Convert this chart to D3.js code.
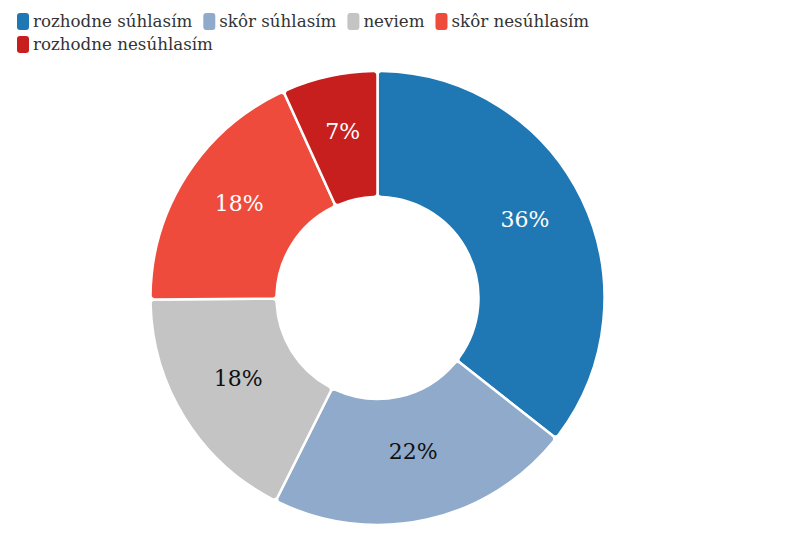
<!DOCTYPE html>
<html>
<head>
<meta charset="utf-8">
<script src="https://cdn.jsdelivr.net/npm/d3@7"></script>
<style>
  body { margin: 0; background: #fff; }
  svg text { font-family: "DejaVu Serif", serif; }
</style>
</head>
<body>
<div id="chart"></div>
<script>
const categories = ['rozhodne súhlasím', 'skôr súhlasím', 'neviem', 'skôr nesúhlasím', 'rozhodne nesúhlasím'];
const values = [35.6, 21.8, 17.5, 18.3, 6.8];
const labels = ['36%', '22%', '18%', '18%', '7%'];
const colors = ['#1f78b4', '#8faaca', '#c4c4c4', '#ef4b3c', '#c71f1e'];
const labelColors = ['#fff', '#111', '#111', '#fff', '#fff'];

const width = 797, height = 546;
const cx = 377.5, cy = 298;
const outerR = 227, innerR = 101;

const svg = d3.select('#chart')
    .append('svg')
    .attr('width', width)
    .attr('height', height);

// legend, wraps onto a second row
const legend = svg.append('g').attr('class', 'legend');
let lx = 17, ly = 13;
categories.forEach((c, i) => {
    const item = legend.append('g');
    const t = item.append('text')
        .attr('x', 16)
        .attr('y', 14)
        .attr('font-size', 16.7)
        .attr('fill', '#333')
        .text(c);
    const w = 16 + t.node().getComputedTextLength();
    if (lx + w > 600) { lx = 17; ly += 23; }
    item.attr('transform', `translate(${lx},${ly})`);
    item.insert('rect', 'text')
        .attr('width', 12)
        .attr('height', 17)
        .attr('rx', 3)
        .attr('fill', colors[i]);
    lx += w + 11;
});

const pie = d3.pie().sort(null).value(d => d)
    .startAngle(0).endAngle(2 * Math.PI);
const arc = d3.arc()
    .innerRadius(innerR)
    .outerRadius(outerR)
    .cornerRadius(4);

const g = svg.append('g').attr('transform', `translate(${cx},${cy})`);
const arcs = pie(values);

g.selectAll('path')
    .data(arcs)
    .enter()
    .append('path')
    .attr('d', arc)
    .attr('fill', (d, i) => colors[i])
    .attr('stroke', '#fff')
    .attr('stroke-width', 2.5);

g.selectAll('text')
    .data(arcs)
    .enter()
    .append('text')
    .attr('transform', d => `translate(${arc.centroid(d)})`)
    .attr('text-anchor', 'middle')
    .attr('dy', '0.05em')
    .attr('font-size', 22)
    .attr('fill', (d, i) => labelColors[i])
    .text((d, i) => labels[i]);
</script>
</body>
</html>
